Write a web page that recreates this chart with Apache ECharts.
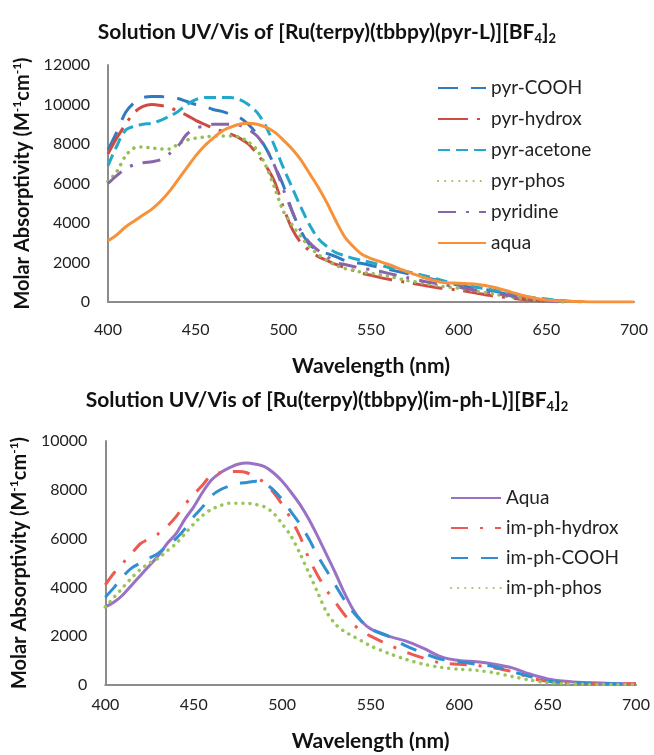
<!DOCTYPE html>
<html>
<head>
<meta charset="utf-8">
<script src="https://cdn.jsdelivr.net/npm/echarts/dist/echarts.min.js"></script>
<style>
html,body{margin:0;padding:0;background:#fff;}
#c{width:654px;height:755px;}
</style>
</head>
<body>
<div id="c"></div>
<script>
// Wavelength grid (nm)
const wavelengths = [400,405,410,415,420,425,430,435,440,445,450,455,460,465,470,475,480,485,490,495,500,505,510,515,520,525,530,535,540,545,550,
  560,570,580,590,600,610,620,630,640,650,660,670,680,690,700];

// Top chart: [Ru(terpy)(tbbpy)(pyr-L)][BF4]2
const topNames = ['pyr-COOH','pyr-hydrox','pyr-acetone','pyr-phos','pyridine','aqua'];
const pyrCOOH = [7700,8600,9600,10100,10350,10400,10400,10350,10300,10150,10000,9900,9750,9650,9500,9350,9000,8500,7800,6900,5900,4600,3600,2900,2600,2450,2300,2100,2000,1950,1850,
  1650,1450,1250,1050,850,700,550,350,200,100,50,0];
const pyrHydrox = [7500,8300,9000,9600,9900,10000,9950,9850,9650,9450,9200,9000,8800,8650,8500,8300,8000,7500,6900,6100,4800,3700,3000,2600,2300,2100,1900,1750,1600,1450,1350,
  1150,1000,850,700,600,450,300,200,100,50,0];
const pyrAcetone = [6900,7900,8700,8900,9000,9050,9200,9400,9650,10000,10250,10350,10350,10350,10350,10250,10000,9600,8900,7900,6800,5800,4800,3900,3200,2800,2500,2350,2200,2100,2000,
  1750,1550,1350,1100,900,750,600,400,250,150,50,0];
const pyrPhos = [6100,6600,7400,7800,7850,7800,7750,7750,8000,8200,8300,8350,8400,8400,8400,8350,8100,7700,6900,5800,4600,3900,3300,2800,2400,2100,1850,1700,1600,1500,1450,
  1300,1100,950,800,700,550,400,250,150,50,0];
const pyridine = [6000,6400,6750,6950,7050,7100,7200,7500,7900,8500,8800,8900,9000,9000,9000,8950,8750,8400,7800,6900,5700,4600,3600,3000,2600,2300,2000,1900,1800,1700,1650,
  1450,1250,1050,900,750,600,450,300,150,50,0];
const pyrAqua = [3100,3400,3800,4100,4400,4700,5100,5600,6200,6800,7400,7900,8300,8650,8850,9000,9050,9000,8850,8600,8200,7750,7200,6500,5800,5000,4100,3300,2800,2400,2200,
  1900,1550,1250,1000,950,900,750,500,250,100,50,20,0,0,0];

// Bottom chart: [Ru(terpy)(tbbpy)(im-ph-L)][BF4]2
const botNames = ['Aqua','im-ph-hydrox','im-ph-COOH','im-ph-phos'];
const imAqua = [3200,3400,3700,4100,4500,4900,5300,5800,6200,6800,7300,7900,8400,8700,8900,9050,9100,9050,8950,8700,8350,7900,7400,6800,6100,5350,4600,3800,3100,2600,2300,
  2000,1800,1500,1150,1000,950,850,700,450,250,150,100,80,50,50];
const imHydrox = [4100,4600,5000,5400,5800,6000,6200,6500,6900,7400,7800,8200,8600,8700,8750,8750,8700,8500,8300,7900,7400,6800,6100,5200,4500,3900,3400,2900,2500,2200,2000,
  1650,1350,1100,900,850,800,700,550,300,150,100,50,50,50,50];
const imCOOH = [3600,4000,4450,4800,5000,5200,5400,5700,6000,6400,6900,7300,7750,8000,8150,8250,8300,8350,8250,8000,7600,7100,6600,6000,5300,4700,4100,3500,3000,2600,2300,
  2000,1600,1300,1050,950,850,750,550,350,150,100,80,60,50,50];
const imPhos = [3200,3600,4000,4400,4750,5000,5200,5500,5800,6200,6600,6950,7200,7350,7450,7450,7450,7400,7300,7050,6600,6100,5400,4600,3800,3000,2500,2200,2000,1800,1600,
  1300,1050,850,720,650,600,500,350,200,100,50,30,20,20,20];

function pairs(vals){ return vals.map((v,i)=>[wavelengths[i], v]); }

const FONT = 'Lato';
const axisLineStyle = {color:'#8c8c8c', width:2};

function mkSeries(name, vals, idx, color, type, width){
  return {
    name: name, type:'line', xAxisIndex: idx, yAxisIndex: idx,
    data: pairs(vals), symbol:'none', showSymbol:false, smooth:0.3,
    lineStyle:{color: color, width: width||3, type: type, cap: (Array.isArray(type) && type[0] < 1) ? 'round' : 'butt'},
    itemStyle:{color: color}, z: 2
  };
}

const yNameRich = {
  a:{fontSize:20, fontWeight:'bold', fontFamily:FONT, color:'#111', lineHeight:24},
  s:{fontSize:12, fontWeight:'bold', fontFamily:FONT, color:'#111', lineHeight:13, verticalAlign:'top'}
};
const titleRich = {
  a:{fontSize:21, fontWeight:'bold', fontFamily:FONT, color:'#111', lineHeight:26},
  s:{fontSize:13, fontWeight:'bold', fontFamily:FONT, color:'#111', lineHeight:15, verticalAlign:'bottom'}
};

function xAx(idx, labelMargin, nameGap){
  return {
    gridIndex: idx, type:'value', min:400, max:700, interval:50,
    axisLine:{show:true, lineStyle:axisLineStyle}, axisTick:{show:false}, splitLine:{show:false},
    axisLabel:{fontSize:16, fontFamily:FONT, color:'#222', margin:labelMargin},
    name:'Wavelength (nm)', nameLocation:'middle', nameGap:nameGap,
    nameTextStyle:{fontSize:21, fontWeight:'bold', fontFamily:FONT, color:'#111'}
  };
}
function yAx(idx, max){
  return {
    gridIndex: idx, type:'value', min:0, max:max, interval:2000,
    axisLine:{show:true, lineStyle:axisLineStyle}, axisTick:{show:false}, splitLine:{show:false},
    axisLabel:{fontSize:16, fontFamily:FONT, color:'#222', margin:18, formatter: v => String(v)},
    name:'{a|Molar Absorptivity (M}{s|-1}{a|cm}{s|-1}{a|)}', nameLocation:'middle', nameGap:64, nameRotate:90,
    nameTextStyle:{rich:yNameRich}
  };
}

const legendCommon = {orient:'vertical', itemWidth:48, itemHeight:14, itemGap:11,
  itemStyle:{opacity:0},
  textStyle:{fontSize:19, fontFamily:FONT, color:'#222', lineHeight:20}};

const option = {
  backgroundColor:'#fff',
  animation:false,
  title:[
    {text:'{a|Solution UV/Vis of [Ru(terpy)(tbbpy)(pyr-L)][BF}{s|4}{a|]}{s|2}', left:'center', top:14,
      textStyle:{rich:titleRich}},
    {text:'{a|Solution UV/Vis of [Ru(terpy)(tbbpy)(im-ph-L)][BF}{s|4}{a|]}{s|2}', left:'center', top:382,
      textStyle:{rich:titleRich}}
  ],
  grid:[
    {left:108, top:65, width:526, height:237, containLabel:false},
    {left:105, top:441, width:531, height:244, containLabel:false}
  ],
  xAxis:[xAx(0, 20, 54), xAx(1, 12, 46)],
  yAxis:[yAx(0, 12000), yAx(1, 10000)],
  legend:[
    Object.assign({data: topNames, left:432, top:73}, legendCommon),
    Object.assign({data: botNames, left:445, top:483}, legendCommon, {itemWidth:50, itemGap:10})
  ],
  series:[
    mkSeries(topNames[0], pyrCOOH, 0, '#2E7BC0', [20,13]),
    mkSeries(topNames[1], pyrHydrox, 0, '#CF4A45', [30,9,3,9]),
    mkSeries(topNames[2], pyrAcetone, 0, '#22A8C8', [12,6]),
    mkSeries(topNames[3], pyrPhos, 0, '#95BE55', [0.1,7], 3.5),
    mkSeries(topNames[4], pyridine, 0, '#8A63AD', [18,10,3,10]),
    mkSeries(topNames[5], pyrAqua, 0, '#F7923A', 'solid'),
    mkSeries(botNames[0], imAqua, 1, '#9B71C6', 'solid'),
    mkSeries(botNames[1], imHydrox, 1, '#EE5A50', [17,12,3,12]),
    mkSeries(botNames[2], imCOOH, 1, '#2E90D1', [17,13]),
    mkSeries(botNames[3], imPhos, 1, '#98C65A', [0.1,7], 3.5)
  ]
};

const chart = echarts.init(document.getElementById('c'), null, {renderer:'canvas'});
chart.setOption(option);
</script>
</body>
</html>
